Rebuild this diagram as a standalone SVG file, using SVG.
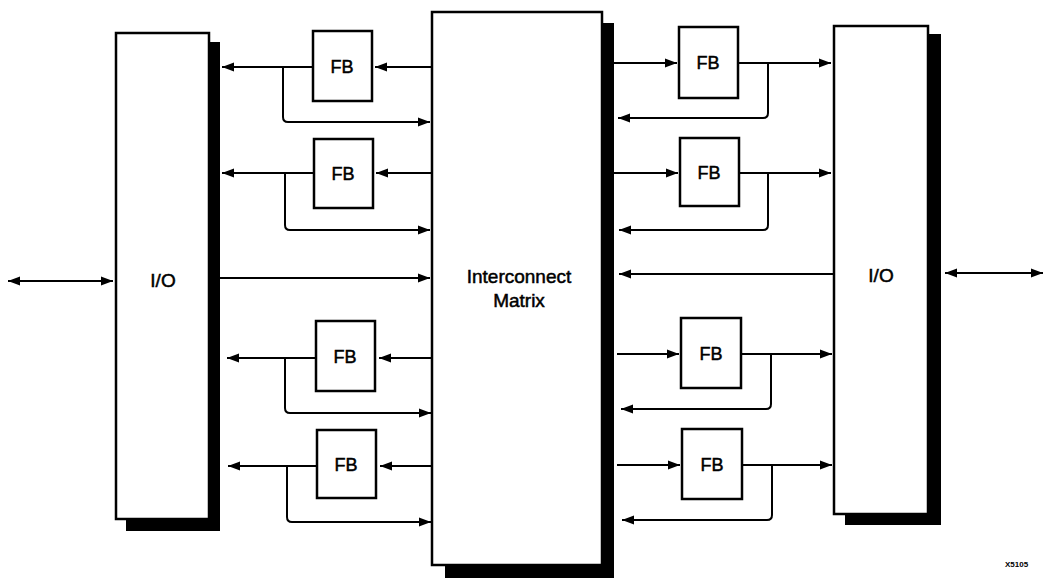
<svg xmlns="http://www.w3.org/2000/svg" width="1045" height="578" viewBox="0 0 1045 578">
<style>
.box{fill:#fff;stroke:#000;stroke-width:2.5}
.shadow{fill:#000}
.lbl{font-family:"Liberation Sans",Arial,sans-serif;font-size:19px;fill:#000;stroke:#000;stroke-width:0.5;text-anchor:middle}
.fb{font-family:"Liberation Sans",Arial,sans-serif;font-size:18px;fill:#000;stroke:#000;stroke-width:0.5;text-anchor:middle}
.w{fill:none;stroke:#000;stroke-width:2;marker-end:url(#ah)}
.wb{fill:none;stroke:#000;stroke-width:2;marker-start:url(#ah);marker-end:url(#ah)}
.tiny{font-family:"Liberation Sans",Arial,sans-serif;font-size:8px;font-weight:bold;fill:#000}
</style>
<defs>
<marker id="ah" markerUnits="userSpaceOnUse" markerWidth="14" markerHeight="10" refX="12" refY="5" orient="auto-start-reverse">
<path d="M0,0.5 L12,5 L0,9.5 z" fill="#000"/>
</marker>
</defs>
<rect x="0" y="0" width="1045" height="578" fill="#fff"/>
<g id="io-left">
<rect class="shadow" x="126" y="42" width="94" height="489"/>
<rect class="box" x="116" y="33" width="93" height="486"/>
<text class="lbl" x="163" y="287">I/O</text>
</g>
<g id="matrix">
<rect class="shadow" x="445" y="23" width="169" height="555"/>
<rect class="box" x="432" y="12" width="170" height="553"/>
<text class="lbl" x="519" y="283">Interconnect</text>
<text class="lbl" x="519" y="307">Matrix</text>
</g>
<g id="io-right">
<rect class="shadow" x="845" y="34" width="96" height="491"/>
<rect class="box" x="834" y="26" width="94" height="488"/>
<text class="lbl" x="881" y="282">I/O</text>
</g>
<g id="fb1"><rect class="box" x="313" y="31" width="59" height="70"/><text class="fb" x="342" y="73">FB</text></g>
<g id="fb2"><rect class="box" x="314" y="139" width="59" height="69"/><text class="fb" x="343" y="180">FB</text></g>
<g id="fb3"><rect class="box" x="316" y="321" width="59" height="70"/><text class="fb" x="345" y="363">FB</text></g>
<g id="fb4"><rect class="box" x="317" y="430" width="59" height="68"/><text class="fb" x="346" y="471">FB</text></g>
<g id="fb5"><rect class="box" x="679" y="27" width="59" height="71"/><text class="fb" x="708" y="69">FB</text></g>
<g id="fb6"><rect class="box" x="680" y="138" width="59" height="68"/><text class="fb" x="709" y="179">FB</text></g>
<g id="fb7"><rect class="box" x="681" y="318" width="60" height="70"/><text class="fb" x="711" y="360">FB</text></g>
<g id="fb8"><rect class="box" x="682" y="429" width="60" height="70"/><text class="fb" x="712" y="471">FB</text></g>
<g id="connectors">
<path class="w" d="M432,67 H375"/>
<path class="w" d="M313,67 H222"/>
<path class="w" d="M283,67 V117 Q283,122 288,122 H430"/>
<path class="w" d="M432,173 H376"/>
<path class="w" d="M314,173 H222"/>
<path class="w" d="M285,173 V225 Q285,230 290,230 H430"/>
<path class="w" d="M220,278 H430"/>
<path class="w" d="M432,358 H379"/>
<path class="w" d="M316,358 H227"/>
<path class="w" d="M285,358 V408 Q285,413 290,413 H431"/>
<path class="w" d="M432,466 H380"/>
<path class="w" d="M317,466 H228"/>
<path class="w" d="M287,466 V517 Q287,522 292,522 H431"/>
<path class="wb" d="M8,281 H113"/>
<path class="w" d="M614,63 H677"/>
<path class="w" d="M738,63 H831"/>
<path class="w" d="M768,63 V113 Q768,118 763,118 H618"/>
<path class="w" d="M614,173 H678"/>
<path class="w" d="M739,173 H831"/>
<path class="w" d="M768,173 V225 Q768,230 763,230 H619"/>
<path class="w" d="M834,274 H619"/>
<path class="w" d="M617,354 H679"/>
<path class="w" d="M741,354 H832"/>
<path class="w" d="M771,354 V404 Q771,409 766,409 H621"/>
<path class="w" d="M617,465 H680"/>
<path class="w" d="M742,465 H832"/>
<path class="w" d="M772,465 V515 Q772,520 767,520 H622"/>
<path class="wb" d="M945,273 H1043"/>
</g>
<text class="tiny" x="1005" y="567">X5105</text>
</svg>
